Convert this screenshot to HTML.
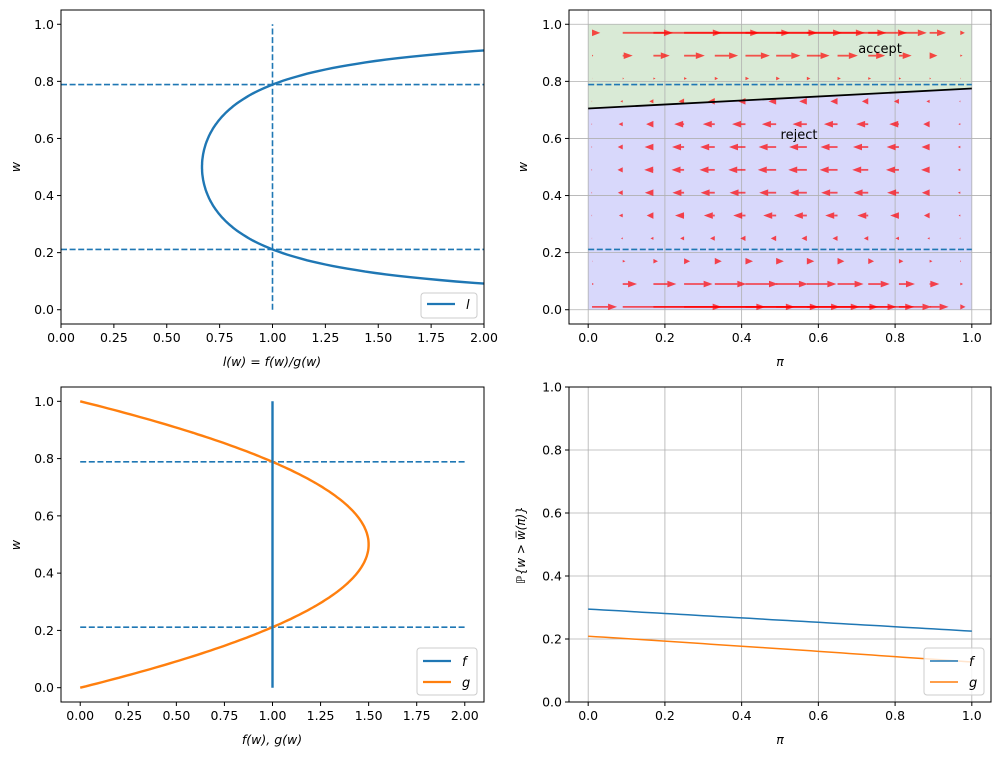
<!DOCTYPE html>
<html><head><meta charset="utf-8"><style>
body{margin:0;background:#fff}
svg{display:block;font-family:"DejaVu Sans","Liberation Sans",sans-serif}
</style></head><body>
<svg id="s" width="1001" height="760" viewBox="0 0 1001 760" xmlns="http://www.w3.org/2000/svg"></svg>
<script>
const S=document.getElementById('s');let h='';
const B='#1f77b4',O='#ff7f0e';
function ax(x0,x1,y0,y1,xl,xh,yl,yh){return {X:v=>x0+(v-xl)/(xh-xl)*(x1-x0),Y:v=>y1-(v-yl)/(yh-yl)*(y1-y0),x0,x1,y0,y1};}
function ticks(a,xt,yt,fx,fy,grid){
 xt.forEach(v=>{const x=a.X(v);if(grid)h+=`<line x1="${x}" y1="${a.y0}" x2="${x}" y2="${a.y1}" stroke="#b0b0b0" stroke-width="0.8"/>`;
  h+=`<line x1="${x}" y1="${a.y1}" x2="${x}" y2="${a.y1+4}" stroke="#000"/><text x="${x}" y="${a.y1+18}" font-size="12.5" text-anchor="middle">${v.toFixed(fx)}</text>`;});
 yt.forEach(v=>{const y=a.Y(v);if(grid)h+=`<line x1="${a.x0}" y1="${y}" x2="${a.x1}" y2="${y}" stroke="#b0b0b0" stroke-width="0.8"/>`;
  h+=`<line x1="${a.x0-4}" y1="${y}" x2="${a.x0}" y2="${y}" stroke="#000"/><text x="${a.x0-7}" y="${y+4.5}" font-size="12.5" text-anchor="end">${v.toFixed(fy)}</text>`;});
}
function frame(a){h+=`<rect x="${a.x0}" y="${a.y0}" width="${a.x1-a.x0}" height="${a.y1-a.y0}" fill="none" stroke="#000" stroke-width="1"/>`;}
function poly(a,pts,c,w,d){h+=`<polyline fill="none" stroke="${c}" stroke-width="${w}" ${d?'stroke-dasharray="6,2.6"':''} points="${pts.map(p=>a.X(p[0]).toFixed(1)+','+a.Y(p[1]).toFixed(1)).join(' ')}"/>`;}
const w1=0.2113,w2=0.7887,yt=[0,0.2,0.4,0.6,0.8,1];
const ws=[];for(let i=0;i<=200;i++)ws.push(0.005+0.99*i/200);
// top-left
let a=ax(61,484,10,324,0,2,-0.05,1.05);
ticks(a,[0,0.25,0.5,0.75,1,1.25,1.5,1.75,2],yt,2,1,false);
h+=`<clipPath id="c1"><rect x="61" y="10" width="423" height="314"/></clipPath><g clip-path="url(#c1)">`;
poly(a,ws.map(w=>[1/(6*w*(1-w)),w]),B,2.4);
poly(a,[[0,w1],[2,w1]],B,1.6,1);poly(a,[[0,w2],[2,w2]],B,1.6,1);poly(a,[[1,0],[1,1]],B,1.6,1);
h+=`</g>`;frame(a);
h+=`<rect x="421" y="293" width="56" height="25" rx="3" fill="#fff" stroke="#ccc"/><line x1="427" y1="304" x2="455" y2="304" stroke="${B}" stroke-width="2.2"/><text x="466" y="309" font-size="13" font-style="italic">l</text>`;
h+=`<text x="272" y="366" font-size="12.5" text-anchor="middle" font-style="italic">l(w) = f(w)/g(w)</text>`;
h+=`<text transform="translate(20,167) rotate(-90)" font-size="12.5" text-anchor="middle" font-style="italic">w</text>`;
// top-right
a=ax(569,991,10,324,-0.05,1.05,-0.05,1.05);
const L=p=>0.705+0.07*p;
h+=`<polygon fill="#d9ead6" points="${a.X(0)},${a.Y(1)} ${a.X(1)},${a.Y(1)} ${a.X(1)},${a.Y(L(1))} ${a.X(0)},${a.Y(L(0))}"/>`;
h+=`<polygon fill="#d8d8fb" points="${a.X(0)},${a.Y(0)} ${a.X(1)},${a.Y(0)} ${a.X(1)},${a.Y(L(1))} ${a.X(0)},${a.Y(L(0))}"/>`;
ticks(a,[0,0.2,0.4,0.6,0.8,1],yt,1,1,true);
poly(a,[[0,w1],[1,w1]],B,1.6,1);poly(a,[[0,w2],[1,w2]],B,1.6,1);
for(let i=0;i<13;i++){const w=0.01+0.08*i,g=6*w*(1-w);for(let j=0;j<13;j++){const p=0.01+0.08*j;const d=p*(1-p)*(1-g)/(p+(1-p)*g);const len=d*185;const x=a.X(p),y=a.Y(w);
 const s=Math.sign(len)||1,al=Math.abs(len);const hl=Math.min(al,9);const hw=Math.max(1,Math.min(3.3,al*0.5));
 const xe=x+len,xb=xe-s*hl;
 if(al>hl)h+=`<line x1="${x}" y1="${y}" x2="${xb}" y2="${y}" stroke="red" stroke-opacity="0.65" stroke-width="1.8"/>`;
 h+=`<polygon points="${xe},${y} ${xb},${y-hw} ${xb},${y+hw}" fill="red" fill-opacity="0.7"/>`;}}
poly(a,[[0,L(0)],[1,L(1)]],'#000',1.8);
h+=`<text x="880" y="53" font-size="13" text-anchor="middle">accept</text><text x="799" y="139" font-size="13" text-anchor="middle">reject</text>`;
frame(a);
h+=`<text x="780" y="366" font-size="12.5" text-anchor="middle" font-style="italic">π</text>`;
h+=`<text transform="translate(527,167) rotate(-90)" font-size="12.5" text-anchor="middle" font-style="italic">w</text>`;
// bottom-left
a=ax(61,484,387,702,-0.1,2.1,-0.05,1.05);
ticks(a,[0,0.25,0.5,0.75,1,1.25,1.5,1.75,2],yt,2,1,false);
poly(a,[[0,w1],[2,w1]],B,1.6,1);poly(a,[[0,w2],[2,w2]],B,1.6,1);
const ws2=[];for(let i=0;i<=200;i++)ws2.push(i/200);
poly(a,ws2.map(w=>[6*w*(1-w),w]),O,2.4);
poly(a,[[1,0],[1,1]],B,2.4);
frame(a);
h+=`<rect x="417" y="648" width="60" height="47" rx="3" fill="#fff" stroke="#ccc"/><line x1="423" y1="661" x2="451" y2="661" stroke="${B}" stroke-width="2.2"/><text x="462" y="666" font-size="13" font-style="italic">f</text><line x1="423" y1="682" x2="451" y2="682" stroke="${O}" stroke-width="2.2"/><text x="462" y="687" font-size="13" font-style="italic">g</text>`;
h+=`<text x="272" y="744" font-size="12.5" text-anchor="middle" font-style="italic">f(w), g(w)</text>`;
h+=`<text transform="translate(20,545) rotate(-90)" font-size="12.5" text-anchor="middle" font-style="italic">w</text>`;
// bottom-right
a=ax(569,991,387,702,-0.05,1.05,0,1);
ticks(a,[0,0.2,0.4,0.6,0.8,1],yt,1,1,true);
const ps=[];for(let i=0;i<=50;i++)ps.push(i/50);
poly(a,ps.map(p=>[p,0.295-0.07*p]),B,1.5);
poly(a,ps.map(p=>[p,0.209-0.078*p-0.004*p*p]),O,1.5);
frame(a);
h+=`<rect x="924" y="648" width="60" height="47" rx="3" fill="#fff" fill-opacity="0.8" stroke="#ccc"/><line x1="930" y1="661" x2="958" y2="661" stroke="${B}" stroke-width="1.5"/><text x="969" y="666" font-size="13" font-style="italic">f</text><line x1="930" y1="682" x2="958" y2="682" stroke="${O}" stroke-width="1.5"/><text x="969" y="687" font-size="13" font-style="italic">g</text>`;
h+=`<text x="780" y="744" font-size="12.5" text-anchor="middle" font-style="italic">π</text>`;
h+=`<text transform="translate(525,545) rotate(-90)" font-size="12" text-anchor="middle" font-style="italic">ℙ{w &gt; w̅(π)}</text>`;
S.innerHTML=h;
</script>
</body></html>
